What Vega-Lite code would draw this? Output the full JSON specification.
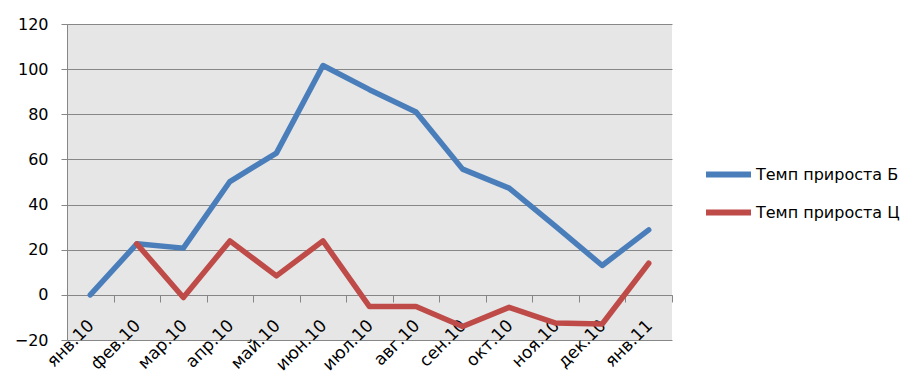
{
  "$schema": "https://vega.github.io/schema/vega-lite/v6.json",
  "autosize": {"type": "none"},
  "padding": {"left": 67, "top": 24, "right": 250, "bottom": 44},
  "width": 605,
  "height": 316,
  "background": "white",
  "config": {
    "view": {"fill": "#E6E6E6", "stroke": null},
    "font": "DejaVu Sans",
    "axis": {"labelFont": "DejaVu Sans", "labelColor": "#000000", "labelFontSize": 16}
  },
  "data": {
    "values": [
      {"month": "янв.10", "series": "Темп прироста Б", "value": 0},
      {"month": "фев.10", "series": "Темп прироста Б", "value": 22.6},
      {"month": "мар.10", "series": "Темп прироста Б", "value": 20.7},
      {"month": "апр.10", "series": "Темп прироста Б", "value": 50.2},
      {"month": "май.10", "series": "Темп прироста Б", "value": 62.8},
      {"month": "июн.10", "series": "Темп прироста Б", "value": 101.6},
      {"month": "июл.10", "series": "Темп прироста Б", "value": 90.9},
      {"month": "авг.10", "series": "Темп прироста Б", "value": 81},
      {"month": "сен.10", "series": "Темп прироста Б", "value": 55.7},
      {"month": "окт.10", "series": "Темп прироста Б", "value": 47.3},
      {"month": "ноя.10", "series": "Темп прироста Б", "value": 30.3},
      {"month": "дек.10", "series": "Темп прироста Б", "value": 13},
      {"month": "янв.11", "series": "Темп прироста Б", "value": 28.8},
      {"month": "фев.10", "series": "Темп прироста Ц", "value": 22.6},
      {"month": "мар.10", "series": "Темп прироста Ц", "value": -1.2},
      {"month": "апр.10", "series": "Темп прироста Ц", "value": 23.9},
      {"month": "май.10", "series": "Темп прироста Ц", "value": 8.4},
      {"month": "июн.10", "series": "Темп прироста Ц", "value": 23.9},
      {"month": "июл.10", "series": "Темп прироста Ц", "value": -5.2},
      {"month": "авг.10", "series": "Темп прироста Ц", "value": -5.2},
      {"month": "сен.10", "series": "Темп прироста Ц", "value": -14},
      {"month": "окт.10", "series": "Темп прироста Ц", "value": -5.5},
      {"month": "ноя.10", "series": "Темп прироста Ц", "value": -12.5},
      {"month": "дек.10", "series": "Темп прироста Ц", "value": -12.9},
      {"month": "янв.11", "series": "Темп прироста Ц", "value": 14}
    ]
  },
  "mark": {"type": "line", "strokeWidth": 5.5, "strokeCap": "round", "strokeJoin": "round"},
  "encoding": {
    "x": {
      "field": "month",
      "type": "ordinal",
      "sort": null,
      "bandPosition": 0.5,
      "scale": {"type": "band", "domain": ["янв.10","фев.10","мар.10","апр.10","май.10","июн.10","июл.10","авг.10","сен.10","окт.10","ноя.10","дек.10","янв.11"], "paddingInner": 0, "paddingOuter": 0},
      "axis": {
        "title": null,
        "offset": -45,
        "domainColor": "#868686",
        "tickColor": "#868686",
        "tickBand": "extent",
        "tickSize": 7,
        "labelAngle": -45,
        "labelAlign": "right",
        "labelBaseline": "top",
        "labelPadding": 15,
        "labelOffset": -5,
        "labelFontSize": 17,
        "grid": false
      }
    },
    "y": {
      "field": "value",
      "type": "quantitative",
      "scale": {"domain": [-20, 120], "nice": false, "zero": false},
      "axis": {
        "title": null,
        "values": [-20, 0, 20, 40, 60, 80, 100, 120],
        "grid": true,
        "gridColor": "#878787",
        "gridWidth": 1,
        "gridOpacity": 1,
        "domainColor": "#868686",
        "tickColor": "#868686",
        "tickSize": 6,
        "labelPadding": 13,
        "labelBaseline": "middle"
      }
    },
    "color": {
      "field": "series",
      "type": "nominal",
      "scale": {"domain": ["Темп прироста Б", "Темп прироста Ц"], "range": ["#4A7EBB", "#BE4B48"]},
      "legend": {
        "title": null,
        "orient": "none",
        "legendX": 636,
        "legendY": 125,
        "symbolType": "stroke",
        "symbolSize": 2025,
        "symbolStrokeWidth": 6,
        "labelFontSize": 16,
        "labelFont": "DejaVu Sans",
        "labelColor": "#000000",
        "labelOffset": 2,
        "rowPadding": 0
      }
    }
  }
}
